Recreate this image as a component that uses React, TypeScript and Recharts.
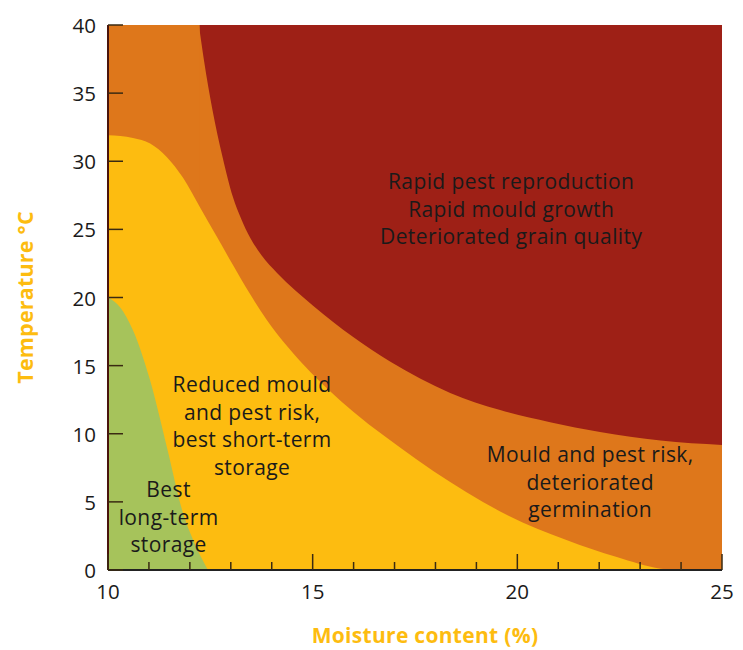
import { ComposedChart, Area, XAxis, YAxis, CartesianGrid, ReferenceDot } from "recharts";

const COLORS = {
  rapid: "#9E2016",
  risk: "#DE771B",
  short: "#FDBC10",
  long: "#A6C35B",
  title: "#FDBC10",
  text: "#1a1a1a",
};

// boundaries (moisture %, temperature °C)
const capX = [10, 12.24];
const capY = [40, 40];
const orangeX = [12.22, 12.35, 12.55, 12.8, 13.05, 13.25, 13.47, 13.75, 14.13, 15.01, 15.99, 16.89, 18.36, 19.58, 20.8, 22.02, 23.5, 25];
const orangeY = [40, 37.3, 33.8, 30.3, 27.4, 25.8, 24.4, 23.1, 21.8, 19.4, 17.1, 15.3, 13.0, 11.74, 10.85, 10.13, 9.5, 9.17];
const yellowX = [10, 10.61, 11.03, 11.44, 11.83, 12.25, 12.66, 13.05, 13.47, 13.88, 14.3, 14.8, 15.4, 16.0, 16.72, 17.55, 18.36, 19.16, 19.58, 21.2, 22.43, 23.5, 23.9];
const yellowY = [31.9, 31.7, 31.3, 30.3, 28.8, 26.6, 24.45, 22.4, 20.25, 18.35, 16.7, 15.0, 13.2, 11.6, 9.9, 8.1, 6.45, 5.0, 4.3, 2.2, 0.95, 0.1, 0];
const greenX = [10, 10.29, 10.61, 11.03, 11.44, 11.83, 12.08, 12.44];
const greenY = [20, 19.3, 17.6, 13.9, 9.0, 4.2, 2.2, 0];

const xTicks = [10, 11, 12, 13, 14, 15, 16, 17, 18, 19, 20, 21, 22, 23, 24, 25];
const yTicks = [0, 5, 10, 15, 20, 25, 30, 35, 40];

const zoneLabels = [
  { x: 19.85, y: 26.5, lines: ["Rapid pest reproduction", "Rapid mould growth", "Deteriorated grain quality"] },
  { x: 13.52, y: 10.6, lines: ["Reduced mould", "and pest risk,", "best short-term", "storage"] },
  { x: 21.78, y: 6.46, lines: ["Mould and pest risk,", "deteriorated", "germination"] },
  { x: 11.48, y: 3.89, lines: ["Best", "long-term", "storage"] },
];

type Row = { x: number; cap?: number; orange?: number; yellow?: number; green?: number };

function buildRows(): Row[] {
  const map = new Map<number, Row>();
  const put = (xs: number[], ys: number[], key: keyof Row) => {
    xs.forEach((x, i) => {
      const row = map.get(x) || { x };
      (row as any)[key] = ys[i];
      map.set(x, row);
    });
  };
  put(capX, capY, "cap");
  put(orangeX, orangeY, "orange");
  put(yellowX, yellowY, "yellow");
  put(greenX, greenY, "green");
  return Array.from(map.values()).sort((a, b) => a.x - b.x);
}

const rows = buildRows();
const FONT = "'Open Sans', 'Noto Sans', sans-serif";

function YTick({ x, y, payload }: any) {
  return (
    <g>
      <line x1={x} x2={x + 15} y1={y} y2={y} stroke="#3a2a12" strokeWidth={1.5} />
      <text x={x - 12} y={y} textAnchor="end" dominantBaseline="central" fontSize={20.5} fill={COLORS.text} fontFamily={FONT}>
        {payload.value}
      </text>
    </g>
  );
}

function XTick({ x, y, payload }: any) {
  const major = payload.value % 5 === 0;
  return (
    <g>
      <line x1={x} x2={x} y1={y} y2={y - (major ? 16 : 8)} stroke="#3a2a12" strokeWidth={1.5} />
      {major && (
        <text x={x} y={y + 21} textAnchor="middle" dominantBaseline="central" fontSize={20.5} fill={COLORS.text} fontFamily={FONT}>
          {payload.value}
        </text>
      )}
    </g>
  );
}

function zoneText(lines: string[]) {
  return ({ viewBox }: any) => {
    const cx = viewBox.x + viewBox.width / 2;
    const cy = viewBox.y + viewBox.height / 2;
    const lh = 27.5;
    return (
      <text textAnchor="middle" fontSize={21} letterSpacing={0.4} fill={COLORS.text} fontFamily={FONT}>
        {lines.map((l, i) => (
          <tspan key={i} x={cx} y={cy + (i - (lines.length - 1) / 2) * lh} dominantBaseline="central">
            {l}
          </tspan>
        ))}
      </text>
    );
  };
}

export default function App() {
  return (
    <div style={{ width: 730, height: 642, fontFamily: FONT }}>
      <ComposedChart width={730} height={642} data={rows} margin={{ top: 17, right: 16, left: 0, bottom: 0 }}>
        <CartesianGrid horizontal={false} vertical={false} fill={COLORS.rapid} fillOpacity={1} />
        <XAxis
          dataKey="x"
          type="number"
          domain={[10, 25]}
          ticks={xTicks}
          interval={0}
          height={80}
          tickSize={0}
          tickMargin={0}
          tickLine={false}
          tick={<XTick />}
          axisLine={{ stroke: "#222", strokeWidth: 2 }}
          allowDataOverflow
          label={{
            content: ({ viewBox }: any) => (
              <text
                x={viewBox.x + viewBox.width / 2 + 10}
                y={viewBox.y + 65}
                textAnchor="middle"
                dominantBaseline="central"
                fontSize={21}
                letterSpacing={0.3}
                fontWeight={700}
                fill={COLORS.title}
                fontFamily={FONT}
              >
                Moisture content (%)
              </text>
            ),
          }}
        />
        <YAxis
          type="number"
          domain={[0, 40]}
          ticks={yTicks}
          interval={0}
          width={100}
          tickSize={0}
          tickMargin={0}
          tickLine={false}
          tick={<YTick />}
          axisLine={{ stroke: "#4a140c", strokeWidth: 2 }}
          allowDataOverflow
          label={{
            content: ({ viewBox }: any) => {
              const cx = viewBox.x + 16;
              const cy = viewBox.y + viewBox.height / 2;
              return (
                <text
                  x={cx}
                  y={cy}
                  transform={`rotate(-90, ${cx}, ${cy})`}
                  textAnchor="middle"
                  dominantBaseline="central"
                  fontSize={21.5}
                  letterSpacing={0.2}
                  fontWeight={700}
                  fill={COLORS.title}
                  fontFamily={FONT}
                >
                  Temperature °C
                </text>
              );
            },
          }}
        />
        <Area dataKey="orange" type="monotone" fill={COLORS.risk} fillOpacity={1} stroke="none" connectNulls isAnimationActive={false} activeDot={false} />
        <Area dataKey="cap" type="linear" fill={COLORS.risk} fillOpacity={1} stroke="none" connectNulls isAnimationActive={false} activeDot={false} />
        <Area dataKey="yellow" type="monotone" fill={COLORS.short} fillOpacity={1} stroke="none" connectNulls isAnimationActive={false} activeDot={false} />
        <Area dataKey="green" type="monotone" fill={COLORS.long} fillOpacity={1} stroke="none" connectNulls isAnimationActive={false} activeDot={false} />
        {zoneLabels.map((z, i) => (
          <ReferenceDot key={i} x={z.x} y={z.y} r={0} fill="none" stroke="none" label={{ content: zoneText(z.lines) }} />
        ))}
      </ComposedChart>
    </div>
  );
}
